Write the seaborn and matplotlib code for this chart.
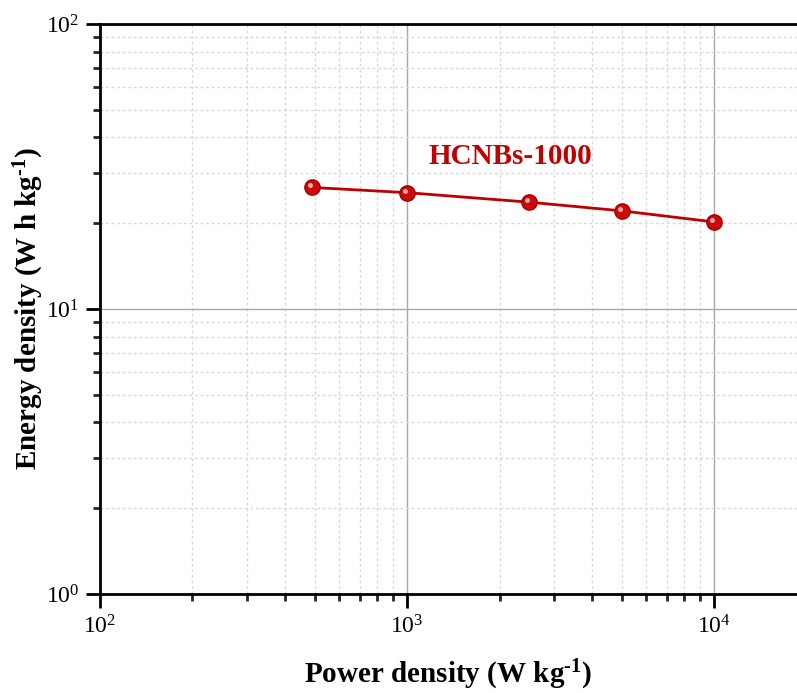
import matplotlib
matplotlib.use("Agg")
import matplotlib.pyplot as plt
import matplotlib.transforms as mtransforms
import seaborn as sns
import pandas as pd
from matplotlib.ticker import LogLocator, NullFormatter

power = [490, 1000, 2500, 5000, 10000]
energy = [26.7, 25.6, 23.7, 22.1, 20.2]
label = "HCNBs-1000"

sns.set_style("white")
plt.rcParams['font.family'] = ['Liberation Serif', 'DejaVu Serif']
plt.rcParams['mathtext.fontset'] = 'custom'
plt.rcParams['mathtext.rm'] = 'Liberation Serif'
plt.rcParams['mathtext.it'] = 'Liberation Serif:italic'
plt.rcParams['mathtext.bf'] = 'Liberation Serif:bold'
plt.rcParams['text.color'] = 'black'
plt.rcParams['axes.labelcolor'] = 'black'

df = pd.DataFrame({"power": power, "energy": energy})

fig = plt.figure(figsize=(7.97, 6.93), dpi=100)
ax = fig.add_axes([100/797, 1-594/693, 1-100/797, (594-24)/693])

sns.lineplot(data=df, x="power", y="energy", ax=ax, color="#c00000", lw=2,
             marker="o", markersize=11, markerfacecolor="#cc0a0a",
             markeredgecolor="#a00000", markeredgewidth=1, zorder=5)
hl = mtransforms.offset_copy(ax.transData, fig=fig, x=-2, y=2, units="dots")
ax.plot(df["power"], df["energy"], ls="none", marker="o", markersize=3.5,
        markerfacecolor="#ffb0b0", markeredgewidth=0, zorder=6, transform=hl)

ax.set_xscale("log")
ax.set_yscale("log")
ax.set_xlim(100, 1.86e4)
ax.set_ylim(1, 100)

ax.xaxis.set_major_locator(LogLocator(base=10, numticks=10))
ax.yaxis.set_major_locator(LogLocator(base=10, numticks=10))
ax.xaxis.set_minor_locator(LogLocator(base=10, subs=range(2, 10), numticks=20))
ax.yaxis.set_minor_locator(LogLocator(base=10, subs=range(2, 10), numticks=20))
ax.xaxis.set_minor_formatter(NullFormatter())
ax.yaxis.set_minor_formatter(NullFormatter())

ax.grid(True, which="major", color="#a8a8a8", lw=1, ls="-")
ax.grid(True, which="minor", color="#d8d8d8", lw=1, ls=(0, (2, 2)))
ax.set_axisbelow(True)

ax.spines["right"].set_visible(False)
for s in ["left", "bottom", "top"]:
    ax.spines[s].set_visible(True)
    ax.spines[s].set_color("black")
    ax.spines[s].set_linewidth(2)

ax.tick_params(which="major", direction="out", length=10, width=2, labelsize=17,
               colors="black", bottom=True, left=True, top=False, right=False, pad=5)
ax.tick_params(which="minor", direction="out", length=5, width=2,
               bottom=True, left=True, top=False, right=False)

ax.set_xlabel("Power density (W kg$^{\\mathbf{\\text{-}1}}$)", fontsize=21,
              fontweight="bold", labelpad=14, color="black")
ax.set_ylabel("Energy density (W h kg$^{\\mathbf{\\text{-}1}}$)", fontsize=21,
              fontweight="bold", color="black")
ax.yaxis.set_label_coords(-0.078, 0.5)

ax.text(2170, 34.4, label, color="#c00000", fontsize=21, fontweight="bold",
        ha="center", va="center")

fig.savefig("out.png", dpi=100)
